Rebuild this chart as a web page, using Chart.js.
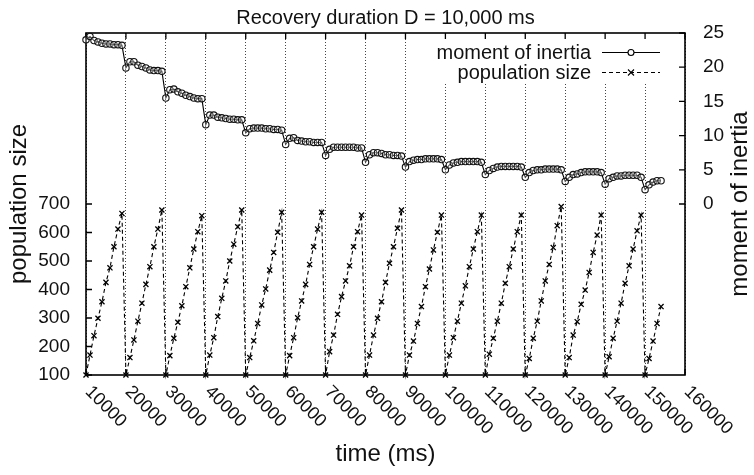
<!DOCTYPE html>
<html>
<head>
<meta charset="utf-8">
<script src="https://cdn.jsdelivr.net/npm/chart.js@4"></script>
<style>
html, body { margin: 0; padding: 0; background: #fff; }
</style>
</head>
<body>
<canvas id="chart" width="754" height="475"></canvas>
<script>
// Recovery duration D = 10,000 ms -- sampled once per second

// time stamps in seconds (x1000 -> ms)
const timeS = [
    10, 11, 12, 13, 14, 15, 16, 17, 18, 19,
    20, 21, 22, 23, 24, 25, 26, 27, 28, 29,
    30, 31, 32, 33, 34, 35, 36, 37, 38, 39,
    40, 41, 42, 43, 44, 45, 46, 47, 48, 49,
    50, 51, 52, 53, 54, 55, 56, 57, 58, 59,
    60, 61, 62, 63, 64, 65, 66, 67, 68, 69,
    70, 71, 72, 73, 74, 75, 76, 77, 78, 79,
    80, 81, 82, 83, 84, 85, 86, 87, 88, 89,
    90, 91, 92, 93, 94, 95, 96, 97, 98, 99,
    100, 101, 102, 103, 104, 105, 106, 107, 108, 109,
    110, 111, 112, 113, 114, 115, 116, 117, 118, 119,
    120, 121, 122, 123, 124, 125, 126, 127, 128, 129,
    130, 131, 132, 133, 134, 135, 136, 137, 138, 139,
    140, 141, 142, 143, 144, 145, 146, 147, 148, 149,
    150, 151, 152, 153, 154
];

const populationSize = [
    100, 170, 238, 299, 357, 425, 476, 550, 612, 667,
    100, 161, 223, 289, 352, 418, 480, 550, 612, 679,
    100, 168, 229, 285, 343, 410, 476, 542, 603, 659,
    100, 170, 231, 305, 369, 430, 500, 559, 620, 679,
    100, 161, 220, 281, 346, 402, 468, 530, 601, 671,
    100, 168, 231, 301, 360, 418, 488, 550, 612, 671,
    100, 182, 240, 313, 375, 430, 483, 550, 603, 661,
    100, 170, 240, 299, 357, 425, 492, 550, 615, 679,
    100, 170, 219, 281, 340, 410, 472, 539, 601, 661,
    100, 170, 231, 289, 352, 413, 480, 542, 603, 661,
    100, 173, 229, 289, 352, 422, 480, 542, 603, 661,
    100, 158, 229, 289, 360, 430, 488, 547, 624, 691,
    100, 161, 240, 287, 348, 398, 460, 530, 591, 661,
    100, 164, 229, 289, 352, 422, 483, 542, 606, 661,
    100, 158, 219, 281, 340
];

const momentOfInertia = [
    24.0, 24.5, 23.9, 23.7, 23.5, 23.4, 23.4, 23.3, 23.3, 23.2,
    19.9, 20.8, 20.8, 20.3, 20.1, 19.9, 19.6, 19.5, 19.5, 19.4,
    15.5, 16.7, 16.8, 16.4, 16.2, 15.9, 15.7, 15.5, 15.4, 15.4,
    11.6, 13.0, 13.0, 12.7, 12.6, 12.5, 12.4, 12.4, 12.3, 12.3,
    10.4, 11.0, 11.1, 11.1, 11.1, 11.0, 11.0, 10.9, 10.9, 10.8,
    8.7, 9.6, 9.7, 9.3, 9.2, 9.1, 9.1, 9.0, 9.0, 9.0,
    7.1, 8.0, 8.3, 8.3, 8.3, 8.3, 8.3, 8.3, 8.2, 8.2,
    6.1, 7.2, 7.5, 7.5, 7.4, 7.2, 7.2, 7.1, 7.1, 7.0,
    5.4, 6.2, 6.4, 6.5, 6.5, 6.6, 6.6, 6.6, 6.6, 6.5,
    5.0, 5.7, 6.0, 6.1, 6.2, 6.2, 6.2, 6.2, 6.2, 6.1,
    4.3, 4.9, 5.2, 5.4, 5.5, 5.5, 5.5, 5.5, 5.5, 5.4,
    3.9, 4.6, 4.9, 5.0, 5.0, 5.1, 5.1, 5.1, 5.1, 5.0,
    3.3, 3.9, 4.3, 4.4, 4.6, 4.7, 4.7, 4.7, 4.7, 4.6,
    2.9, 3.7, 3.9, 4.1, 4.1, 4.2, 4.2, 4.2, 4.2, 3.9,
    2.1, 2.8, 3.2, 3.4, 3.4
];

// axis ranges / ticks
const xTicks = [10000, 20000, 30000, 40000, 50000, 60000, 70000, 80000,
    90000, 100000, 110000, 120000, 130000, 140000, 150000, 160000];
const popTicks = [100, 200, 300, 400, 500, 600, 700];
const inertiaTicks = [0, 5, 10, 15, 20, 25];

const chartTitle = "Recovery duration D = 10,000 ms";
const xTitle = "time (ms)";
const yTitle = "population size";
const y2Title = "moment of inertia";

const FONT = '"Liberation Sans", Arial, Helvetica, sans-serif';

const toPoints = (vals) => vals.map((v, i) => ({ x: timeS[i] * 1000, y: v }));

// draws frame, inward ticks, rotated labels, titles and the gnuplot-ish key
const gnuplotDecor = {
    id: "gnuplotDecor",
    beforeDatasetsDraw(chart) {
        const { ctx, chartArea: a, scales } = chart;
        ctx.save();

        // key backdrop hides the grid
        ctx.fillStyle = "#fff";
        ctx.fillRect(a.right - 255, a.top, 255, 49);

        ctx.strokeStyle = "#000";
        ctx.lineWidth = 1.6;
        ctx.strokeRect(a.left, a.top, a.right - a.left, a.bottom - a.top);

        ctx.lineWidth = 1.3;
        ctx.beginPath();
        xTicks.forEach(v => {
            const px = scales.x.getPixelForValue(v);
            ctx.moveTo(px, a.bottom); ctx.lineTo(px, a.bottom - 6);
            ctx.moveTo(px, a.top); ctx.lineTo(px, a.top + 6);
        });
        popTicks.forEach(v => {
            const py = scales.y.getPixelForValue(v);
            ctx.moveTo(a.left, py); ctx.lineTo(a.left + 6, py);
        });
        inertiaTicks.forEach(v => {
            const py = scales.y2.getPixelForValue(v);
            ctx.moveTo(a.right, py); ctx.lineTo(a.right - 6, py);
        });
        ctx.stroke();
        ctx.restore();
    },
    afterDraw(chart) {
        const { ctx, chartArea: a, scales } = chart;
        const cx = (a.left + a.right) / 2;
        const cy = (a.top + a.bottom) / 2;
        ctx.save();
        ctx.fillStyle = "#111";

        // title
        ctx.font = "20px " + FONT;
        ctx.textAlign = "center";
        ctx.textBaseline = "alphabetic";
        ctx.fillText(chartTitle, cx, 24);

        // x tick labels, rotated like gnuplot "rotate by -45"
        ctx.font = "18px " + FONT;
        ctx.textAlign = "left";
        ctx.textBaseline = "middle";
        xTicks.forEach(v => {
            const px = scales.x.getPixelForValue(v);
            ctx.save();
            ctx.translate(px + 2, a.bottom + 14);
            ctx.rotate(Math.PI / 4);
            ctx.fillText(String(v), 0, 0);
            ctx.restore();
        });

        // axis titles
        ctx.font = "24px " + FONT;
        ctx.textAlign = "center";
        ctx.textBaseline = "alphabetic";
        ctx.fillText(xTitle, cx, 461);

        ctx.textBaseline = "middle";
        ctx.save();
        ctx.translate(19, cy);
        ctx.rotate(-Math.PI / 2);
        ctx.fillText(yTitle, 0, 0);
        ctx.restore();

        ctx.save();
        ctx.translate(740, cy);
        ctx.rotate(-Math.PI / 2);
        ctx.fillText(y2Title, 0, 0);
        ctx.restore();

        // key
        const textR = a.right - 94;
        const x0 = a.right - 83, x1 = a.right - 25, xm = a.right - 54;
        ctx.font = "20px " + FONT;
        ctx.textAlign = "right";
        ctx.textBaseline = "alphabetic";
        ctx.fillText(y2Title, textR, 59);
        ctx.fillText(yTitle, textR, 79);

        ctx.strokeStyle = "#000";
        ctx.lineWidth = 1.1;
        ctx.beginPath();
        ctx.moveTo(x0, 52.5); ctx.lineTo(x1, 52.5);
        ctx.stroke();
        ctx.beginPath();
        ctx.arc(xm, 52.5, 3, 0, Math.PI * 2);
        ctx.fillStyle = "#fff";
        ctx.fill();
        ctx.stroke();

        ctx.setLineDash([4, 3]);
        ctx.beginPath();
        ctx.moveTo(x0, 72.5); ctx.lineTo(x1, 72.5);
        ctx.stroke();
        ctx.setLineDash([]);
        ctx.beginPath();
        ctx.moveTo(xm - 3, 69.5); ctx.lineTo(xm + 3, 75.5);
        ctx.moveTo(xm + 3, 69.5); ctx.lineTo(xm - 3, 75.5);
        ctx.stroke();

        ctx.restore();
    }
};

new Chart(document.getElementById("chart"), {
    type: "line",
    data: {
        datasets: [
            {
                label: y2Title,
                data: toPoints(momentOfInertia),
                yAxisID: "y2",
                borderColor: "#000",
                borderWidth: 1.1,
                pointStyle: "circle",
                pointRadius: 3.2,
                pointBorderWidth: 1.1,
                pointBorderColor: "#111",
                pointBackgroundColor: "rgba(255,255,255,0.3)",
                tension: 0,
                fill: false,
                clip: false
            },
            {
                label: yTitle,
                data: toPoints(populationSize),
                yAxisID: "y",
                borderColor: "#000",
                borderWidth: 1.1,
                borderDash: [4, 3],
                pointStyle: "crossRot",
                pointRadius: 3.6,
                pointBorderWidth: 1.3,
                pointBorderColor: "#000",
                tension: 0,
                fill: false,
                clip: false
            }
        ]
    },
    options: {
        responsive: false,
        animation: false,
        devicePixelRatio: 1,
        layout: { padding: { top: 33, left: 0, right: 0, bottom: 0 } },
        plugins: {
            legend: { display: false },
            title: { display: false },
            tooltip: { enabled: false }
        },
        scales: {
            x: {
                type: "linear",
                min: 10000,
                max: 160000,
                ticks: { stepSize: 10000, display: false },
                grid: { color: "#444", lineWidth: 1, drawTicks: false },
                border: { display: false, dash: [1, 2] },
                afterFit: (s) => { s.height = 100; }
            },
            y: {
                position: "left",
                min: 100,
                max: 1300,
                ticks: {
                    stepSize: 100,
                    padding: 8,
                    color: "#111",
                    font: { family: FONT, size: 19 },
                    callback: (v) => (popTicks.includes(v) ? v : "")
                },
                grid: { display: false },
                border: { display: false },
                afterFit: (s) => { s.width = 86; }
            },
            y2: {
                position: "right",
                min: -25,
                max: 25,
                ticks: {
                    stepSize: 5,
                    padding: 10,
                    color: "#111",
                    font: { family: FONT, size: 19 },
                    callback: (v) => (inertiaTicks.includes(v) ? v : "")
                },
                grid: { display: false },
                border: { display: false },
                afterFit: (s) => { s.width = 69; }
            }
        }
    },
    plugins: [gnuplotDecor]
});
</script>
</body>
</html>
